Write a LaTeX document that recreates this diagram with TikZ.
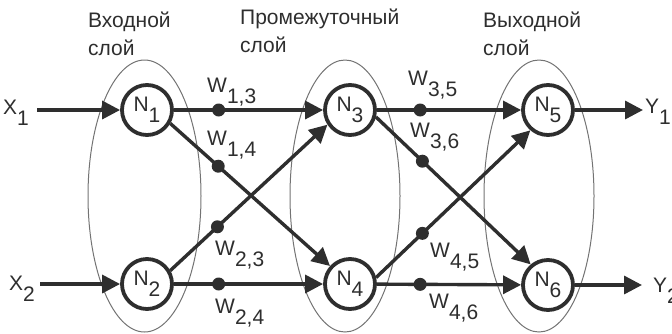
\documentclass[tikz,border=0pt]{standalone}
\usepackage{fontspec}
\setmainfont{Liberation Sans}
\usetikzlibrary{arrows.meta}
\definecolor{ink}{gray}{0.18}
\definecolor{rim}{gray}{0.45}
\newcommand{\lowsub}[1]{\raisebox{-11pt}{#1}}

\begin{document}
\begin{tikzpicture}[x=1pt,y=-1pt,
neuron/.style={circle,draw=ink,line width=3.8pt,fill=white,minimum size=50pt,inner sep=0pt,text=ink,font=\fontsize{21}{25}\selectfont},
link/.style={draw=ink,line width=3.4pt,-{Triangle[length=18pt,width=18pt]}},
wdot/.style={circle,fill=ink,inner sep=0pt,minimum size=13pt},
wlab/.style={anchor=base west,inner sep=0pt,text=ink,font=\fontsize{21}{25}\selectfont},
layer/.style={draw=rim,line width=1pt},
title/.style={anchor=base west,inner sep=0pt,align=left,text=ink,font=\fontsize{21}{28}\selectfont}
]
\useasboundingbox (0,0) rectangle (672,333);
% layers
\draw[layer] (144.5,196) ellipse [x radius=56.5,y radius=136];
\draw[layer] (345,196) ellipse [x radius=55,y radius=136];
\draw[layer] (539,196) ellipse [x radius=55,y radius=136];
\node[title] (t1) at (88,55) {Входной\\слой};
\node[title] (t2) at (240,52) {Промежуточный\\слой};
\node[title] (t3) at (483,55) {Выходной\\слой};

% neurons
\foreach \n/\x/\y in {1/147/110,2/147/284,3/350/110,4/350/284,5/548/110,6/548/285}
{
\node[neuron] (N\n) at (\x,\y) {N\lowsub{\n}};
}

% inputs and outputs
\coordinate (x1) at (37,110);
\coordinate (x2) at (40,284);
\coordinate (y1) at (643,110);
\coordinate (y2) at (642,285);
\draw[link] (x1) -- (N1);
\draw[link] (x2) -- (N2);
\draw[link] (N5) -- (y1);
\draw[link] (N6) -- (y2);
\node[wlab] (X1) at (3,114) {X\lowsub{1}};
\node[wlab] (X2) at (9,290) {X\lowsub{2}};
\node[wlab] (Y1) at (645,113) {Y\lowsub{1}};
\node[wlab] (Y2) at (653,292) {Y\lowsub{2}};

% weighted links
\foreach \s/\t/\w in {N1/N3/13,N1.-30/N4.138/14,N2.30/N3.-147/23,N2/N4/24,
N3/N5/35,N3.-15/N6.130/36,N4.14/N5.-131/45,N4/N6/46}
{
\draw[link] (\s) -- node[wdot,pos=0.3] (w\w) {} (\t);
}
\foreach \w/\txt/\lx/\ly in {13/{1,3}/207/92,14/{1,4}/207/145,23/{2,3}/215/255,24/{2,4}/215/313,
35/{3,5}/408/85,36/{3,6}/410/137,45/{4,5}/430/257,46/{4,6}/429/308}
{
\node[wlab] (l\w) at (\lx,\ly) {W\lowsub{\txt}};
}
\end{tikzpicture}
\end{document}
